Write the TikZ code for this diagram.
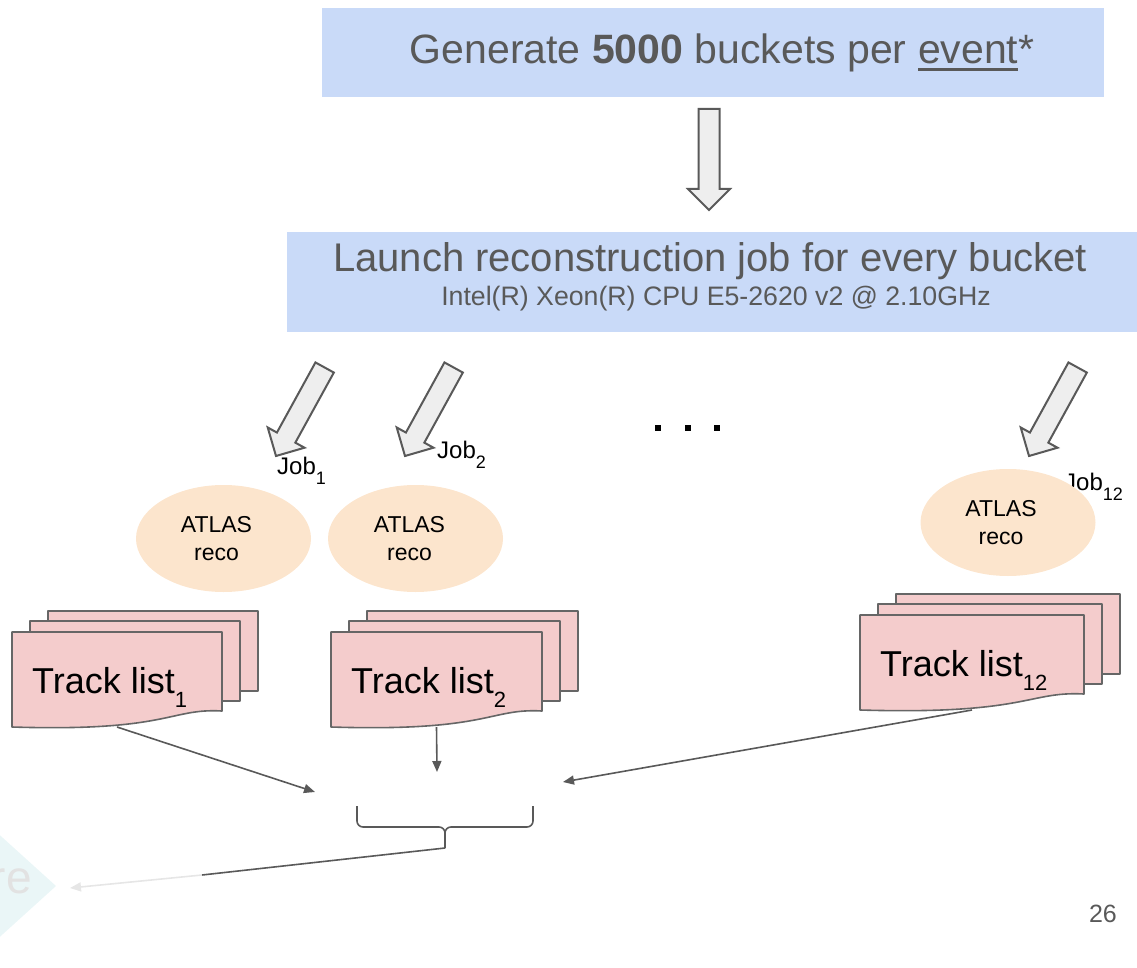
\documentclass[tikz,border=0pt]{standalone}
\usepackage{fontspec}
\setmainfont{Liberation Sans}
\usetikzlibrary{arrows.meta,shapes.geometric}

\definecolor{boxblue}{HTML}{C9DAF8}
\definecolor{textgray}{HTML}{595959}
\definecolor{arrowfill}{HTML}{EEEEEE}
\definecolor{recofill}{HTML}{FCE5CD}
\definecolor{docfill}{HTML}{F4CCCC}
\definecolor{docline}{HTML}{666666}
\definecolor{fadecyan}{HTML}{EAF6F7}
\definecolor{fadegray}{HTML}{E2E2E2}
\definecolor{fadeline}{HTML}{E6E6E6}

% font size in points, leading equal to size
\newcommand\fs[1]{\fontsize{#1}{#1}\selectfont}
% font size with explicit leading
\newcommand\fsl[2]{\fontsize{#1}{#2}\selectfont}
% lowered, smaller index: #1 drop, #2 size, #3 text
\newcommand\idx[3]{\raisebox{-#1pt}{\fs{#2}#3}}
% underline drawn as a rule below the word
\newcommand\uword[1]{\setbox0\hbox{#1}\rlap{\rule[-7.5pt]{\wd0}{3pt}}\box0}

% wide hollow arrow: #1 tip, #2 angle, #3 total length
\newcommand\blockarrow[3]{%
  \begin{scope}[shift={#1}, rotate=#2]
    \draw[hollowarrow] (0,0) -- (-21,21) -- (-21,10.5) -- (-#3,10.5)
      -- (-#3,-10.5) -- (-21,-10.5) -- (-21,-21) -- cycle;
  \end{scope}}

% stacked documents: #1 name, #2 x, #3 y (front top left), #4 width, #5 label
\newcommand\tracklist[5]{%
  \draw[docpage] (#2+36,#3-21) rectangle (#2+36+#4,#3+59);
  \draw[docpage] (#2+18,#3-11) rectangle (#2+18+#4,#3+69);
  \draw[docpage] (#2,#3) -- (#2+#4,#3) -- (#2+#4,#3+79)
    .. controls (#2+0.75*#4,#3+76) and (#2+0.75*#4,#3+100) .. (#2,#3+95) -- cycle;
  \node[doctext] at (#2+20,#3+61) {#5};
  \coordinate (#1) at (#2+0.5*#4,#3+95);
}

\tikzset{
  panel/.style={fill=boxblue, draw=none, inner sep=0pt},
  paneltext/.style={text=textgray, anchor=base, inner sep=0pt},
  hollowarrow/.style={fill=arrowfill, draw=textgray, line width=2pt, line join=miter},
  reco/.style={ellipse, fill=recofill, draw=none, minimum width=175pt,
    minimum height=107pt, inner sep=0pt},
  recotext/.style={inner sep=0pt, align=center, font=\fsl{23}{28}},
  joblabel/.style={anchor=base west, inner sep=0pt, font=\fs{24}},
  docpage/.style={fill=docfill, draw=docline, line width=1.6pt, line join=round},
  doctext/.style={anchor=base west, inner sep=0pt, font=\fs{36}},
  conn/.style={draw=textgray, line width=1.6pt,
    -{Triangle[length=11pt,width=9pt]}},
  braceline/.style={draw=textgray, line width=1.6pt, rounded corners=6pt},
  dot/.style={fill=black, minimum size=6pt, inner sep=0pt, rectangle},
}

\begin{document}
\begin{tikzpicture}[x=1pt,y=-1pt]
\useasboundingbox (0,0) rectangle (1137,968);
\clip (0,0) rectangle (1137,968);

% faded shape at the left margin
\fill[fadecyan] (56,886) -- (-50,790) -- (-156,886) -- (-50,982) -- cycle;
\node[anchor=base east, inner sep=0pt, text=fadegray, font=\fs{46}] (faded) at (32,893) {re};

% header boxes
\node[panel, minimum width=782pt, minimum height=89pt] (gen) at (713,52.5) {};
\node[paneltext, font=\fs{41}] (gentext) at (722,64)
  {Generate \textbf{5000} buckets per \uword{event}*};

\blockarrow{(709,210)}{-90}{101}

\node[panel, minimum width=850pt, minimum height=100pt] (launch) at (712,282) {};
\node[paneltext, font=\fs{40}] (launchtext) at (710,272)
  {Launch reconstruction job for every bucket};
\node[paneltext, font=\fs{26.7}] (cputext) at (716,305)
  {Intel(R) Xeon(R) CPU E5-2620 v2 @ 2.10GHz};

% job arrows
\blockarrow{(276,456)}{-118.8}{101}
\blockarrow{(405,456)}{-118.8}{101}
\blockarrow{(1029,456)}{-118.8}{101}

\node[joblabel] (job1) at (277,474) {Job\idx{10}{18}{1}};
\node[joblabel] (job2) at (437,458) {Job\idx{10}{18}{2}};
\node[joblabel] (job12) at (1064,490) {Job\idx{10}{18}{12}};

% continuation dots
\node[dot] (d1) at (658,428) {};
\node[dot] (d2) at (688,428) {};
\node[dot] (d3) at (717,428) {};

% reconstruction steps
\node[reco] (reco1) at (223.5,538.5) {};
\node[reco] (reco2) at (415.5,538.5) {};
\node[reco] (reco12) at (1008,522.5) {};
\node[recotext] (reco1t) at ([xshift=-7pt]reco1.center) {ATLAS\\reco};
\node[recotext] (reco2t) at ([xshift=-6pt]reco2.center) {ATLAS\\reco};
\node[recotext] (reco12t) at ([xshift=-7pt]reco12.center) {ATLAS\\reco};

% outputs
\tracklist{tl1}{12}{632}{210}{Track list\idx{14}{22}{1}}
\tracklist{tl2}{331}{632}{211}{Track list\idx{14}{22}{2}}
\tracklist{tl12}{860}{615}{224}{Track list\idx{14}{22}{12}}

% merge
\coordinate (in1) at (315,792);
\coordinate (in2) at (437,772);
\coordinate (in12) at (563,782);
\draw[conn] (tl1) -- (in1);
\draw[conn] (tl2) -- (in2);
\draw[conn] (tl12) -- (in12);

\coordinate (bl) at (357,806);
\coordinate (br) at (533,806);
\coordinate (bm) at (445,827);
\coordinate (btip) at (445,848);
\draw[braceline] (bl) |- (bm) -- (btip);
\draw[braceline] (br) |- (bm) -- (btip);

\coordinate (fadestart) at (202,875);
\coordinate (fadetip) at (70,888);
\draw[textgray, line width=1.6pt] (btip) -- (fadestart);
\draw[fadeline, line width=1.6pt, -{Triangle[length=11pt,width=9pt]}] (fadestart) -- (fadetip);

% slide number
\node[anchor=base east, inner sep=0pt, text=textgray, font=\fs{25}] (page) at (1117,922) {26};
\end{tikzpicture}
\end{document}
